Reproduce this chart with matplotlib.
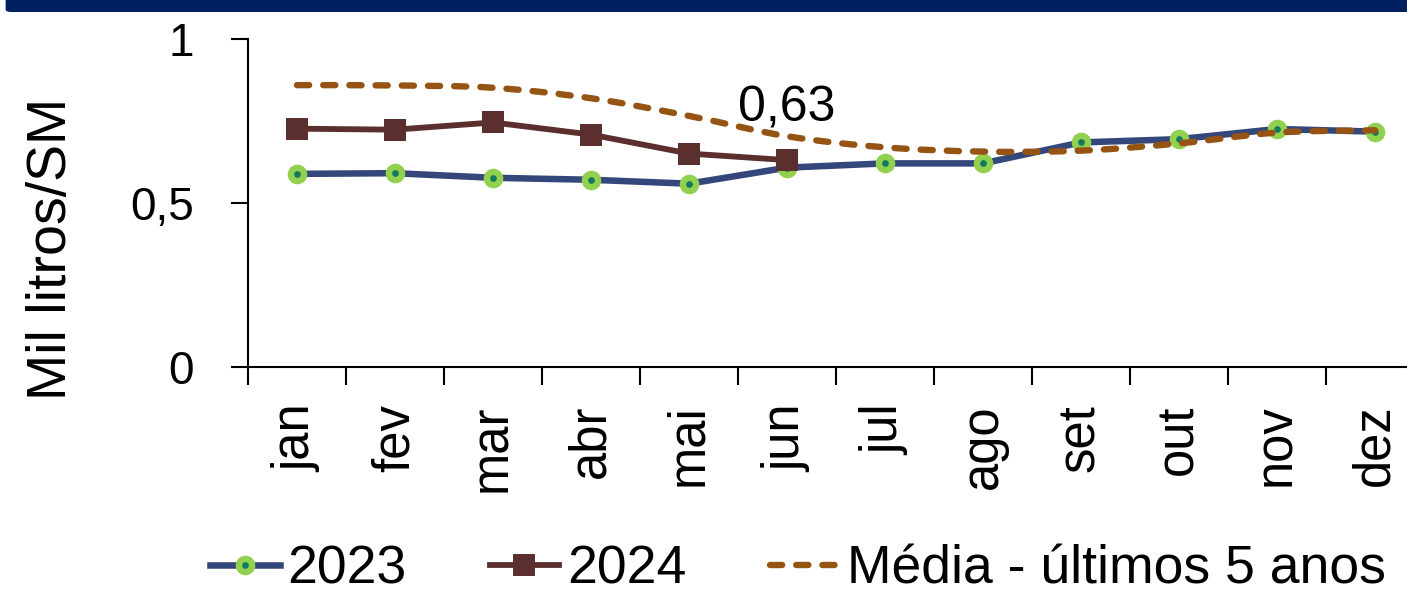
import matplotlib
matplotlib.use("Agg")
import matplotlib.pyplot as plt
import numpy as np
from matplotlib.path import Path
from matplotlib.patches import PathPatch, FancyBboxPatch
from matplotlib.lines import Line2D

plt.rcParams['font.family'] = ['Liberation Sans', 'DejaVu Sans']

# data (Mil litros/SM)
meses = ['jan', 'fev', 'mar', 'abr', 'mai', 'jun',
         'jul', 'ago', 'set', 'out', 'nov', 'dez']
v2023 = [0.589, 0.591, 0.577, 0.571, 0.559, 0.608,
         0.621, 0.621, 0.685, 0.695, 0.726, 0.718]
v2024 = [0.727, 0.724, 0.746, 0.709, 0.651, 0.631]
media5 = [0.860, 0.859, 0.852, 0.820, 0.766, 0.704,
          0.670, 0.657, 0.660, 0.682, 0.715, 0.722]
yticks = [0, 0.5, 1]
ytick_labels = ['0', '0,5', '1']
rotulo_2024 = '0,63'

c2023 = '#34477a'
c2023_edge = '#92d050'
c2023_face = '#127a5e'
c2024 = '#5c2f2f'
cmedia = '#955414'


def smooth_path(xs, ys):
    # Catmull-Rom style bezier, like the "smoothed line" option of spreadsheets
    pts = np.column_stack([xs, ys]).astype(float)
    n = len(pts)
    verts = [pts[0]]
    codes = [Path.MOVETO]
    for i in range(n - 1):
        p0 = pts[i - 1] if i > 0 else pts[i]
        p1 = pts[i]
        p2 = pts[i + 1]
        p3 = pts[i + 2] if i + 2 < n else pts[i + 1]
        c1 = p1 + (p2 - p0) / 6.0
        c2 = p2 - (p3 - p1) / 6.0
        verts += [c1, c2, p2]
        codes += [Path.CURVE4] * 3
    return Path(verts, codes)


W, H = 1407, 593
fig = plt.figure(figsize=(W / 100, H / 100), dpi=100)

# navy band at the top
fig.patches.append(FancyBboxPatch((0.004, 1 - 12 / H), 1.1, 0.1,
                                  boxstyle='round,pad=0,rounding_size=0.004',
                                  transform=fig.transFigure, facecolor='#002060',
                                  edgecolor='none', zorder=5))

ax = fig.add_axes([248 / W, 1 - 366.7 / H, 1176 / W, (366.7 - 39.3) / H])

x = np.arange(len(meses))
ax.plot(x, v2023, color=c2023, lw=4.7, marker='o', ms=9.5, mew=4.6,
        mfc=c2023_face, mec=c2023_edge, zorder=3)
ax.plot(x[:len(v2024)], v2024, color=c2024, lw=4.2, marker='s', ms=16,
        mew=0, mfc=c2024, zorder=4)
ax.add_patch(PathPatch(smooth_path(x, media5), fill=False, edgecolor=cmedia,
                       lw=4.6, linestyle=(0, (1.9, 2.2)), capstyle='round',
                       zorder=5))

ax.annotate(rotulo_2024, (x[len(v2024) - 1], v2024[-1]), xytext=(0, 28),
            textcoords='offset points', ha='center', va='baseline',
            fontsize=36)

ax.set_xlim(-0.5, len(meses) - 0.5)
ax.set_ylim(0, 1)
ax.set_yticks(yticks)
ax.set_yticklabels(ytick_labels)
ax.set_xticks(np.arange(-0.5, len(meses)), labels=[])
ax.set_xticks(x, labels=meses, minor=True)
ax.tick_params(axis='x', which='major', length=13, width=1.5, direction='out')
ax.tick_params(axis='x', which='minor', length=0, pad=27, labelsize=36.5,
               labelrotation=90)
ax.tick_params(axis='y', length=12, width=1.5, pad=27, labelsize=33)
for lab in ax.get_xticklabels(minor=True):
    lab.set_va('top')
for s in ['top', 'right']:
    ax.spines[s].set_visible(False)
for s in ['left', 'bottom']:
    ax.spines[s].set_linewidth(1.5)

fig.text(52 / W, 1 - 249 / H, 'Mil litros/SM', rotation=90, ha='center',
         va='center', fontsize=40)

handles = [
    Line2D([], [], color=c2023, lw=4.7, marker='o', ms=9.5, mew=4.6,
           mfc=c2023_face, mec=c2023_edge),
    Line2D([], [], color=c2024, lw=4.2, marker='s', ms=16, mew=0, mfc=c2024),
    Line2D([], [], color=cmedia, lw=4.6, dashes=(1.9, 2.2),
           dash_capstyle='round'),
]
fig.legend(handles, ['2023', '2024', 'Média - últimos 5 anos'], loc='center',
           bbox_to_anchor=(798 / W, 1 - 570 / H), ncol=3, frameon=False,
           prop={'size': 38.5},
           handlelength=1.3, handletextpad=0.15, columnspacing=1.55,
           borderpad=0, borderaxespad=0)

fig.savefig('out.png', dpi=100)
